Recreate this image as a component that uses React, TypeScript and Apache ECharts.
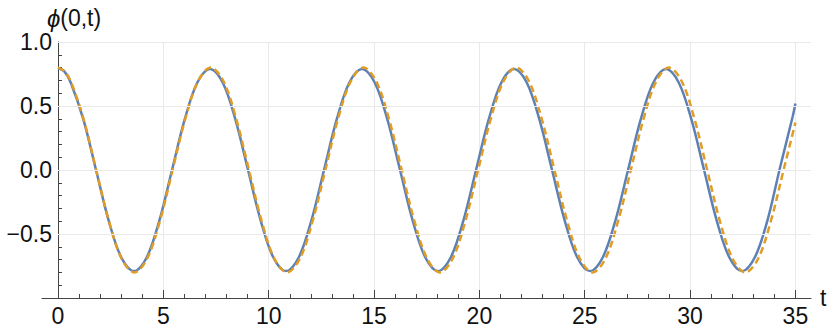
import React, { useEffect, useRef } from "react";
import * as echarts from "echarts";

// Blue solid curve
const blueT = [0, 0.3, 0.601, 1.203, 1.804, 2.405, 3.006, 3.608, 4.209, 4.81, 5.411, 6.013, 6.614,
  7.215, 7.816, 8.418, 9.019, 9.62, 10.221, 10.823, 11.424, 12.025, 12.626, 13.228, 13.829,
  14.43, 15.031, 15.633, 16.234, 16.835, 17.436, 18.038, 18.639, 19.24, 19.841, 20.443, 21.044,
  21.645, 22.246, 22.848, 23.449, 24.05, 24.651, 25.253, 25.854, 26.455, 27.056, 27.658, 28.259,
  28.86, 29.461, 30.063, 30.664, 31.265, 31.866, 32.468, 33.069, 33.67, 34.271, 34.873, 35];
const blueY = [0.797, 0.77, 0.684, 0.395, 0, -0.395, -0.684, -0.79, -0.684, -0.395, 0, 0.395, 0.684,
  0.79, 0.684, 0.395, 0, -0.395, -0.684, -0.79, -0.684, -0.395, 0, 0.395, 0.684,
  0.79, 0.684, 0.395, 0, -0.395, -0.684, -0.79, -0.684, -0.395, 0, 0.395, 0.684,
  0.79, 0.684, 0.395, 0, -0.395, -0.684, -0.79, -0.684, -0.395, 0, 0.395, 0.684,
  0.79, 0.684, 0.395, 0, -0.395, -0.684, -0.79, -0.684, -0.395, 0.02, 0.42, 0.52];

// Orange dashed curve
const orangeT = [0, 0.302, 0.604, 1.208, 1.813, 2.417, 3.021, 3.625, 4.229, 4.833, 5.438, 6.042, 6.646,
  7.25, 7.854, 8.458, 9.063, 9.667, 10.271, 10.875, 11.479, 12.083, 12.688, 13.292, 13.896,
  14.5, 15.104, 15.708, 16.313, 16.917, 17.521, 18.125, 18.729, 19.333, 19.938, 20.542, 21.146,
  21.75, 22.354, 22.958, 23.563, 24.167, 24.771, 25.375, 25.979, 26.583, 27.188, 27.792, 28.396,
  29.0, 29.604, 30.208, 30.813, 31.417, 32.021, 32.625, 33.229, 33.833, 34.438, 35];
const orangeY = [0.8, 0.773, 0.693, 0.4, 0, -0.4, -0.693, -0.8, -0.693, -0.4, 0, 0.4, 0.693,
  0.8, 0.693, 0.4, 0, -0.4, -0.693, -0.8, -0.693, -0.4, 0, 0.4, 0.693,
  0.8, 0.693, 0.4, 0, -0.4, -0.693, -0.8, -0.693, -0.4, 0, 0.4, 0.693,
  0.8, 0.693, 0.4, 0, -0.4, -0.693, -0.8, -0.693, -0.4, 0, 0.4, 0.693,
  0.8, 0.693, 0.4, 0, -0.4, -0.693, -0.8, -0.693, -0.4, 0, 0.37];

const xMajorTicks = [0, 5, 10, 15, 20, 25, 30, 35];
const xMinorTicks = [1, 2, 3, 4, 5, 6, 7, 8, 9, 10, 11, 12, 13, 14, 15, 16, 17, 18, 19, 20,
  21, 22, 23, 24, 25, 26, 27, 28, 29, 30, 31, 32, 33, 34, 35];
const yGridValues = [1, 0.5, 0, -0.5];

const X_MIN = -0.76;
const X_MAX = 35.74;
const AXIS_COLOR = "#444";
const GRID_COLOR = "#e9e9e9";
const FONT = "Liberation Sans";
const FS = 23;

export default function App() {
  const ref = useRef<HTMLDivElement>(null);
  useEffect(() => {
    if (!ref.current) return;
    const chart = echarts.init(ref.current, undefined, { renderer: "svg" });
    chart.setOption({
      animation: false,
      backgroundColor: "#fff",
      grid: { left: 42, right: 19, top: 42, bottom: 34, containLabel: false, outerBoundsMode: "none" },
      xAxis: [
        {
          type: "value",
          min: X_MIN,
          max: X_MAX,
          position: "bottom",
          axisLine: { show: true, onZero: false, lineStyle: { color: AXIS_COLOR, width: 1 } },
          axisTick: { show: true, inside: true, length: 4, customValues: xMinorTicks, lineStyle: { color: AXIS_COLOR } },
          axisLabel: { show: false },
          splitLine: { show: false },
        },
        {
          type: "value",
          min: X_MIN,
          max: X_MAX,
          position: "bottom",
          axisLine: { show: false, onZero: false },
          axisTick: { show: true, inside: true, length: 8, customValues: xMajorTicks, lineStyle: { color: AXIS_COLOR } },
          axisLabel: {
            show: true,
            customValues: xMajorTicks,
            fontSize: FS,
            fontFamily: FONT,
            color: "#111",
            margin: 6,
          },
          splitLine: { show: true, lineStyle: { color: GRID_COLOR, width: 1 } },
          name: "t",
          nameLocation: "end",
          nameGap: 9,
          nameTextStyle: { fontSize: FS, fontFamily: FONT, color: "#111", padding: [6, 0, 0, 0] },
        },
      ],
      yAxis: {
        type: "value",
        min: -1,
        max: 1,
        interval: 0.5,
        axisLine: { show: true, onZero: true, onZeroAxisIndex: 0, lineStyle: { color: AXIS_COLOR, width: 1 } },
        axisTick: { show: true, inside: true, length: 8, lineStyle: { color: AXIS_COLOR } },
        minorTick: { show: true, splitNumber: 5, length: 4, lineStyle: { color: AXIS_COLOR } },
        splitLine: { show: false },
        axisLabel: {
          fontSize: FS,
          fontFamily: FONT,
          color: "#111",
          margin: -10,
          formatter: (v: number) => (v <= -1 ? "" : v < 0 ? "\u2212" + Math.abs(v).toFixed(1) : v.toFixed(1)),
        },
        name: "{phi|\u03d5}{n|(0,t)}",
        nameLocation: "end",
        nameGap: 12,
        nameTextStyle: {
          fontSize: 23,
          fontFamily: FONT,
          color: "#111",
          padding: [0, 0, 0, 32],
          rich: {
            phi: { fontSize: 24, fontFamily: FONT, fontStyle: "italic", color: "#111" },
            n: { fontSize: 23, fontFamily: FONT, color: "#111" },
          },
        },
      },
      series: [
        {
          type: "line",
          data: [],
          z: 0,
          silent: true,
          markLine: {
            silent: true,
            symbol: "none",
            label: { show: false },
            lineStyle: { color: GRID_COLOR, width: 1, type: "solid" },
            data: yGridValues.map((v) => [{ coord: [0, v] }, { coord: [X_MAX, v] }]),
          },
        },
        {
          type: "line",
          data: blueT.map((t, i) => [t, blueY[i]]),
          smooth: 0.35,
          showSymbol: false,
          lineStyle: { color: "#5e81b5", width: 2.5 },
          z: 3,
        },
        {
          type: "line",
          data: orangeT.map((t, i) => [t, orangeY[i]]),
          smooth: 0.35,
          showSymbol: false,
          lineStyle: { color: "#e19c24", width: 2.5, type: [7, 4] },
          z: 4,
        },
      ],
    });
    return () => chart.dispose();
  }, []);
  return <div ref={ref} style={{ position: "absolute", left: 0, top: 0, width: 830, height: 332 }} />;
}
